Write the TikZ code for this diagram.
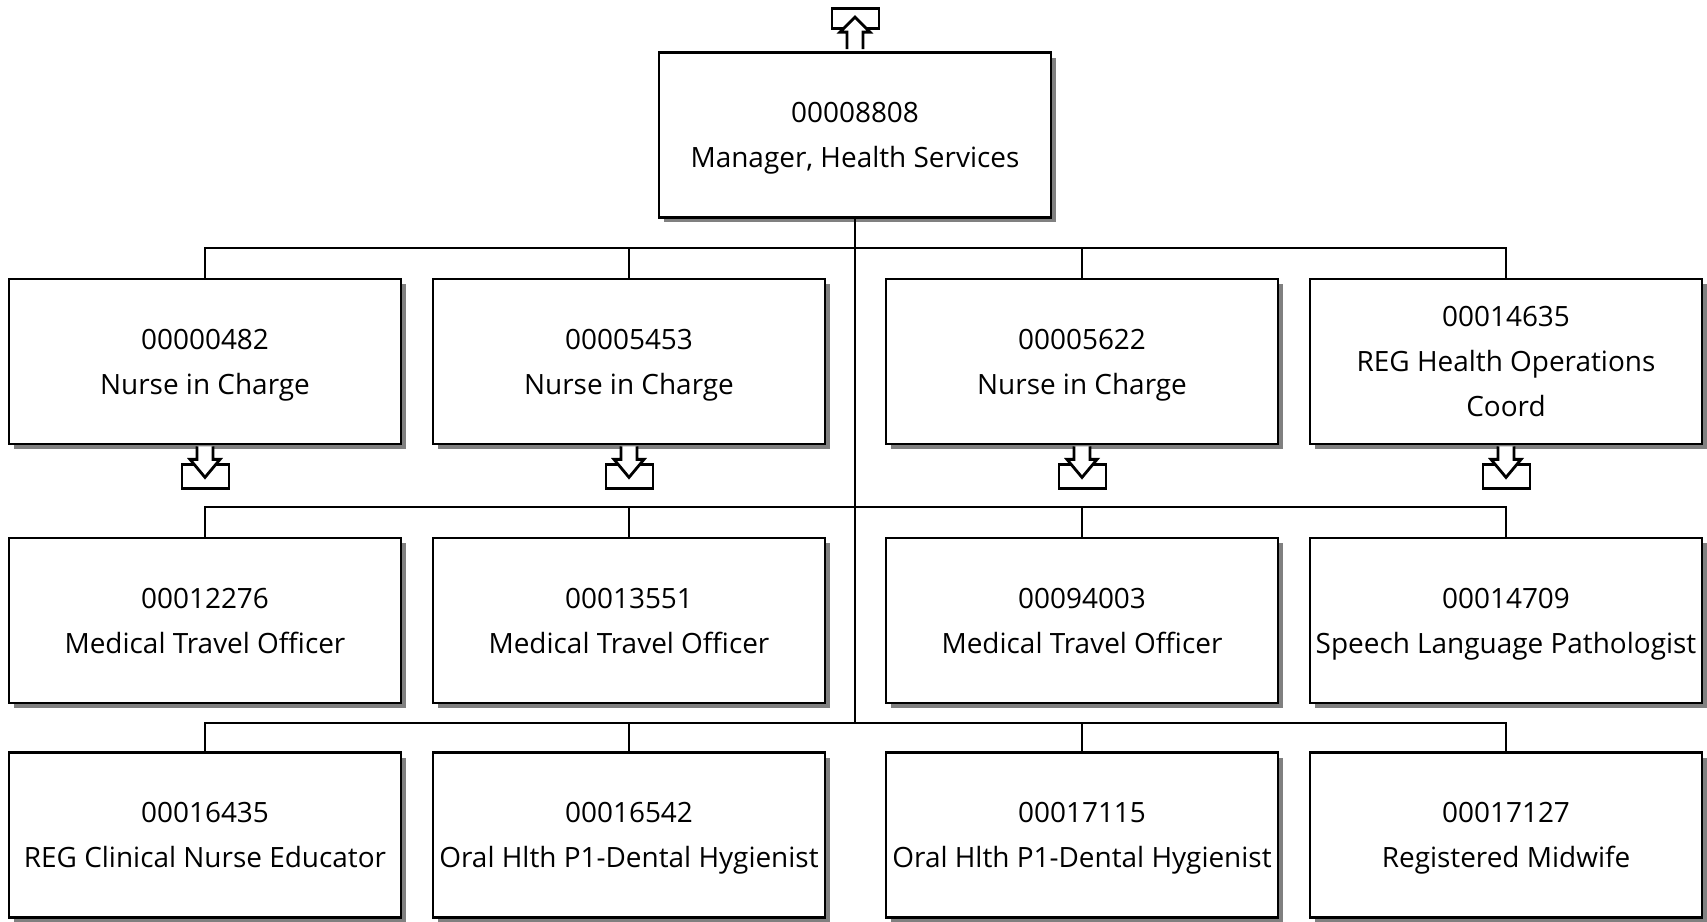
\documentclass[tikz,border=0pt]{standalone}
\usepackage{fontspec}
\setmainfont{Open Sans}
\usetikzlibrary{shadows}

\tikzset{
  post/.style={draw, line width=1.6pt, fill=white, align=center,
    minimum width=7.84cm, minimum height=3.3cm, inner sep=2pt,
    font=\fontsize{15.9}{25.5}\selectfont, text depth=0pt,
    drop shadow={shadow xshift=0.1cm, shadow yshift=-0.1cm, fill=black!50, opacity=1}},
  link/.style={line width=1.3pt},
  glyph/.style={line width=1.6pt, fill=white, line join=miter}
}

\begin{document}
\begin{tikzpicture}[x=0.02cm, y=-0.02cm]
                \useasboundingbox (0,0) rectangle (1707,922);
                % posts
                \node[post] (mgr) at (855,135) {00008808\\Manager, Health Services};
                \node[post] (p482)   at (205,361.5)  {00000482\\Nurse in Charge};
                \node[post] (p5453)  at (629,361.5)  {00005453\\Nurse in Charge};
                \node[post] (p5622)  at (1082,361.5) {00005622\\Nurse in Charge};
                \node[post] (p14635) at (1506,361.5) {00014635\\REG Health Operations\\Coord};
                \node[post] (p12276) at (205,620.5)  {00012276\\Medical Travel Officer};
                \node[post] (p13551) at (629,620.5)  {00013551\\Medical Travel Officer};
                \node[post] (p94003) at (1082,620.5) {00094003\\Medical Travel Officer};
                \node[post] (p14709) at (1506,620.5) {00014709\\Speech Language Pathologist};
                \node[post] (p16435) at (205,835)    {00016435\\REG Clinical Nurse Educator};
                \node[post] (p16542) at (629,835)    {00016542\\Oral Hlth P1-Dental Hygienist};
                \node[post] (p17115) at (1082,835)   {00017115\\Oral Hlth P1-Dental Hygienist};
                \node[post] (p17127) at (1506,835)   {00017127\\Registered Midwife};
                % buses
                \coordinate (busa) at (855,248);
                \coordinate (busb) at (855,507);
                \coordinate (busc) at (855,723);
                \draw[link] (mgr.south) -- (busc);
                \draw[link] (p482.north) |- (busa) -| (p14635.north);
                \draw[link] (p12276.north) |- (busb) -| (p14709.north);
                \draw[link] (p16435.north) |- (busc) -| (p17127.north);
                \foreach \p/\b in {p5453/busa,p5622/busa,p13551/busb,p94003/busb,p16542/busc,p17115/busc}
                    {\draw[link] (\p.north) -- (\p.north |- \b);}
                % drill down marks
                \foreach \p in {p482,p5453,p5622,p14635}{
                    \begin{scope}[shift={(\p.south)}]
                        \draw[glyph] (-23,19) rectangle (24,43);
                        \draw[glyph] (-8,1) -- (-8,14) -- (-15,14) -- (0,32) -- (15,14) -- (8,14) -- (8,1);
                    \end{scope}
                }
                % drill up mark
                \begin{scope}[shift={(mgr.north)}]
                    \draw[glyph] (-23,-43) rectangle (24,-23);
                    \draw[glyph] (-8,-2) -- (-8,-19) -- (-15,-19) -- (0,-34) -- (15,-19) -- (8,-19) -- (8,-2);
                \end{scope}
\end{tikzpicture}
\end{document}
